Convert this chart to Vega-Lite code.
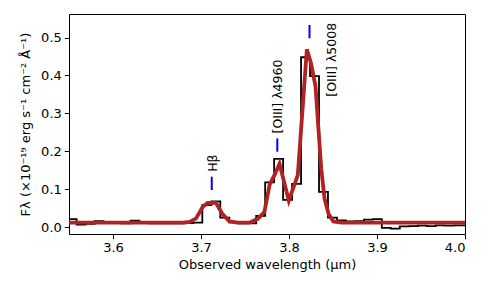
{
  "$schema": "https://vega.github.io/schema/vega-lite/v6.json",
  "autosize": {"type": "none"},
  "width": 396,
  "height": 220,
  "padding": {"left": 69, "top": 14, "right": 26, "bottom": 60},
  "background": "white",
  "config": {
    "font": "DejaVu Sans",
    "view": {"stroke": "black", "strokeWidth": 1},
    "axis": {
      "grid": false,
      "domain": false,
      "tickColor": "black",
      "tickSize": 4.7,
      "tickWidth": 1,
      "labelColor": "black",
      "labelFont": "DejaVu Sans",
      "labelFontSize": 13,
      "labelPadding": 3,
      "titleColor": "black",
      "titleFont": "DejaVu Sans",
      "titleFontSize": 13,
      "titleFontWeight": "normal"
    }
  },
  "datasets": {
    "spec": [
      {"wl": 3.5485, "f": 0.021}, {"wl": 3.5587, "f": 0.007}, {"wl": 3.5689, "f": 0.009},
      {"wl": 3.5791, "f": 0.016}, {"wl": 3.5893, "f": 0.014}, {"wl": 3.5995, "f": 0.011},
      {"wl": 3.6097, "f": 0.010}, {"wl": 3.6199, "f": 0.017}, {"wl": 3.6301, "f": 0.011},
      {"wl": 3.6403, "f": 0.010}, {"wl": 3.6505, "f": 0.010}, {"wl": 3.6607, "f": 0.010},
      {"wl": 3.6709, "f": 0.010}, {"wl": 3.6811, "f": 0.011}, {"wl": 3.6913, "f": 0.012},
      {"wl": 3.7015, "f": 0.058}, {"wl": 3.7117, "f": 0.068}, {"wl": 3.7219, "f": 0.025},
      {"wl": 3.7321, "f": 0.013}, {"wl": 3.7423, "f": 0.010}, {"wl": 3.7525, "f": 0.010},
      {"wl": 3.7627, "f": 0.030}, {"wl": 3.7729, "f": 0.118}, {"wl": 3.7831, "f": 0.180},
      {"wl": 3.7933, "f": 0.072}, {"wl": 3.8035, "f": 0.114}, {"wl": 3.8137, "f": 0.448},
      {"wl": 3.8239, "f": 0.398}, {"wl": 3.8341, "f": 0.093}, {"wl": 3.8443, "f": 0.025},
      {"wl": 3.8545, "f": 0.018}, {"wl": 3.8647, "f": 0.015}, {"wl": 3.8749, "f": 0.016},
      {"wl": 3.8851, "f": 0.020}, {"wl": 3.8953, "f": 0.021}, {"wl": 3.9055, "f": -0.002},
      {"wl": 3.9157, "f": -0.004}, {"wl": 3.9259, "f": 0.002}, {"wl": 3.9361, "f": 0.003},
      {"wl": 3.9463, "f": 0.004}, {"wl": 3.9565, "f": 0.003}, {"wl": 3.9667, "f": 0.005},
      {"wl": 3.9769, "f": 0.004}, {"wl": 3.9871, "f": 0.005}, {"wl": 3.9973, "f": 0.005},
      {"wl": 4.0075, "f": 0.005}
    ],
    "model": [
      {"wl": 3.55, "m": 0.012}, {"wl": 3.68, "m": 0.012}, {"wl": 3.6872, "m": 0.014},
      {"wl": 3.6944, "m": 0.023}, {"wl": 3.702, "m": 0.054}, {"wl": 3.7076, "m": 0.064},
      {"wl": 3.717, "m": 0.064}, {"wl": 3.724, "m": 0.036}, {"wl": 3.7323, "m": 0.015},
      {"wl": 3.742, "m": 0.012}, {"wl": 3.755, "m": 0.012}, {"wl": 3.7645, "m": 0.022},
      {"wl": 3.772, "m": 0.040}, {"wl": 3.778, "m": 0.112}, {"wl": 3.784, "m": 0.140},
      {"wl": 3.7892, "m": 0.167}, {"wl": 3.7998, "m": 0.070}, {"wl": 3.81, "m": 0.137},
      {"wl": 3.8203, "m": 0.469}, {"wl": 3.825, "m": 0.432}, {"wl": 3.8301, "m": 0.372},
      {"wl": 3.8366, "m": 0.155}, {"wl": 3.8404, "m": 0.075}, {"wl": 3.845, "m": 0.035},
      {"wl": 3.8504, "m": 0.015}, {"wl": 3.86, "m": 0.012}, {"wl": 4.0, "m": 0.012}
    ],
    "lines": [
      {"wl": 3.7122, "y0": 0.098, "y1": 0.133, "lx": 3.7135, "ly": 0.146, "label": "Hβ"},
      {"wl": 3.7867, "y0": 0.199, "y1": 0.234, "lx": 3.788, "ly": 0.247, "label": "[OIII] λ4960"},
      {"wl": 3.8233, "y0": 0.498, "y1": 0.533, "lx": 3.849, "ly": 0.344, "label": "[OIII] λ5008"}
    ]
  },
  "layer": [
    {
      "data": {"name": "spec"},
      "mark": {"type": "line", "interpolate": "step-after", "color": "black", "strokeWidth": 1.8, "clip": true},
      "encoding": {
        "x": {
          "field": "wl", "type": "quantitative",
          "scale": {"domain": [3.55, 4.0], "nice": false, "zero": false},
          "axis": {"values": [3.6, 3.7, 3.8, 3.9, 4.0], "format": ".1f", "title": "Observed wavelength (μm)", "titlePadding": 4}
        },
        "y": {
          "field": "f", "type": "quantitative",
          "scale": {"domain": [-0.018, 0.562], "nice": false, "zero": false},
          "axis": {"values": [0, 0.1, 0.2, 0.3, 0.4, 0.5], "format": ".1f", "title": "Fλ (×10⁻¹⁹ erg s⁻¹ cm⁻² Å⁻¹)", "titleX": -44, "titleBaseline": "middle", "titleAngle": 270}
        }
      }
    },
    {
      "mark": {"type": "rule", "color": "black", "strokeWidth": 1.8, "strokeDash": [7, 3.5]},
      "encoding": {"y": {"datum": 0}}
    },
    {
      "data": {"name": "model"},
      "mark": {"type": "line", "color": "#b22222", "strokeWidth": 3.8, "clip": true},
      "encoding": {
        "x": {"field": "wl", "type": "quantitative"},
        "y": {"field": "m", "type": "quantitative"}
      }
    },
    {
      "data": {"name": "lines"},
      "mark": {"type": "rule", "color": "#0000ff", "strokeWidth": 2},
      "encoding": {
        "x": {"field": "wl", "type": "quantitative"},
        "y": {"field": "y0", "type": "quantitative"},
        "y2": {"field": "y1"}
      }
    },
    {
      "data": {"name": "lines"},
      "mark": {"type": "text", "angle": 270, "align": "left", "baseline": "middle", "font": "DejaVu Sans", "fontSize": 12.5, "color": "black"},
      "encoding": {
        "x": {"field": "lx", "type": "quantitative"},
        "y": {"field": "ly", "type": "quantitative"},
        "text": {"field": "label"}
      }
    }
  ]
}
